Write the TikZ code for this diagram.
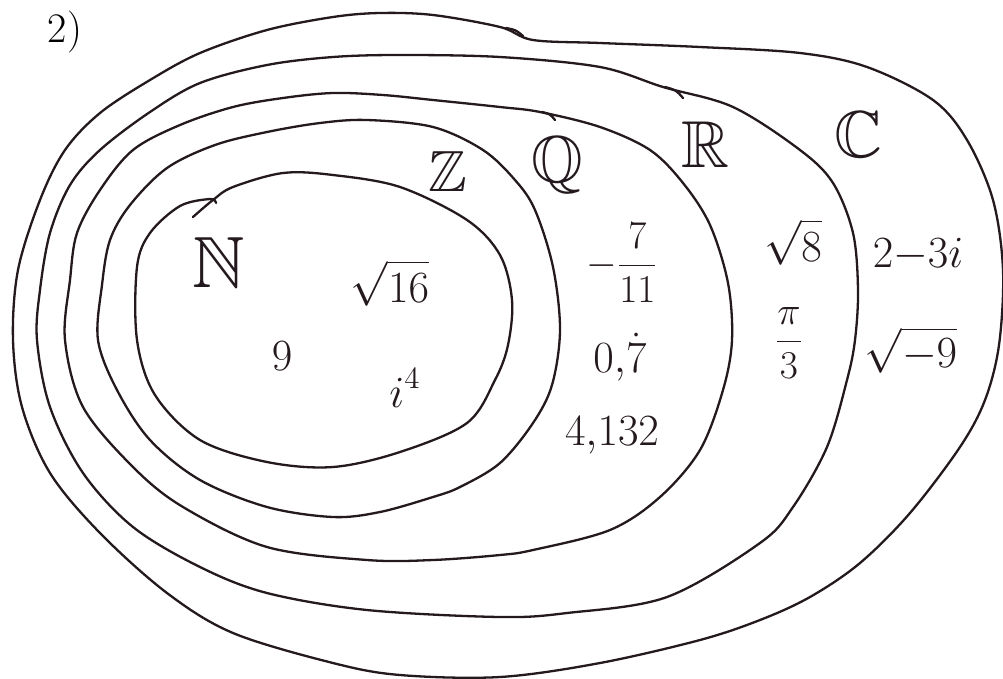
\documentclass[tikz,border=0pt]{standalone}
\usepackage{amsmath,amssymb}
\usepackage{graphicx}
\definecolor{ink}{RGB}{35,25,30}
\newcommand\SetLbl[2]{\scalebox{#1}{$#2$}}
\newcommand\ElemTx[1]{\scalebox{2.15}{$\displaystyle #1$}}
\newcommand\FracTx[1]{\scalebox{1.9}{$\displaystyle #1$}}
\begin{document}
\begin{tikzpicture}[x=1pt,y=-1pt,
  setline/.style={draw=ink, line width=2.3pt, line cap=round, line join=round},
  lbl/.style={text=ink, font=\fontsize{20.74}{25}\selectfont, inner sep=0pt},
  el/.style={text=ink, font=\fontsize{20.74}{25}\selectfont, inner sep=0pt}]
\useasboundingbox (0,0) rectangle (1003,678);
\clip (0,0) rectangle (1003,678);
\fill[white] (0,0) rectangle (1003,678);

% C (outermost)
\draw[setline] plot[smooth cycle, tension=0.55] coordinates {
 (13,340) (18,270) (40,200) (65,150) (100,113) (150,80) (200,53) (267,30)
 (333,17) (380,13) (433,15) (500,27) (533,40) (600,43) (700,47) (800,53)
 (867,67) (933,100) (967,140) (993,200) (1003,270) (999,345) (985,400)
 (960,447) (910,513) (860,563) (810,597) (760,620) (700,640) (600,663)
 (500,677) (400,675) (333,663) (233,633) (167,593) (100,533) (50,473) (22,407)};
\draw[setline] (506,28) .. controls (516,30) .. (523,36);

% R
\draw[setline] plot[smooth cycle, tension=0.55] coordinates {
 (37,340) (40,290) (50,233) (70,185) (100,150) (150,112) (200,83) (267,65)
 (333,57) (400,55) (500,57) (600,67) (663,87) (733,107) (800,150) (833,183)
 (853,233) (858,290) (855,340) (847,380) (827,447) (793,507) (760,543)
 (667,597) (567,613) (500,617) (367,610) (267,593) (200,567) (133,527)
 (83,473) (50,407)};
\draw[setline] (665,87) .. controls (676,90) .. (683,98);

% Q
\draw[setline] plot[smooth cycle, tension=0.55] coordinates {
 (65,340) (70,280) (77,233) (100,190) (133,150) (180,125) (233,107) (283,98)
 (333,93) (383,95) (433,100) (500,107) (540,112) (600,127) (650,150) (683,183)
 (710,225) (728,283) (732,340) (723,390) (700,450) (660,497) (610,530)
 (533,550) (500,555) (433,560) (367,560) (267,547) (183,507) (133,467) (83,407)};
\draw[setline] (542,112) .. controls (550,114) .. (555,120);

% Z
\draw[setline] plot[smooth cycle, tension=0.55] coordinates {
 (98,340) (102,285) (110,240) (130,205) (167,168) (215,145) (267,132) (320,123)
 (367,120) (433,127) (483,150) (515,180) (535,210) (553,267) (560,330)
 (552,385) (533,423) (500,463) (460,487) (433,497) (380,512) (333,517)
 (267,507) (200,480) (150,440) (117,390)};

% N (innermost, open stroke with crossing ends)
\draw[setline] plot[smooth, tension=0.55] coordinates {
 (193,217) (213,200) (233,187) (283,173) (333,175) (400,187) (467,220)
 (500,255) (512,300) (508,345) (495,380) (467,423) (400,452) (333,467)
 (267,462) (200,440) (155,395) (137,340) (137,267) (150,233) (180,206)
 (210,199) (216,203)};

% title
\node[text=black, font=\fontsize{42}{48}\selectfont, inner sep=0pt] (title) at (65,32) {2)};

% set labels
\node[lbl] (lN) at (219,262) {\SetLbl{3.5}{\mathbb{N}}};
\node[lbl] (lZ) at (448,171) {\SetLbl{2.8}{\mathbb{Z}}};
\node[lbl] (lQ) at (557,165) {\SetLbl{3.2}{\mathbb{Q}}};
\node[lbl] (lR) at (705,145) {\SetLbl{3.2}{\mathbb{R}}};
\node[lbl] (lC) at (858,135) {\SetLbl{3.2}{\mathbb{C}}};

% elements
\node[el] (e16) at (390,283) {\ElemTx{\sqrt{16}}};
\node[el] (e9) at (282,356) {\ElemTx{9}};
\node[el] (ei4) at (405,388) {\ElemTx{i^4}};
\node[el] (e711) at (622,263) {\FracTx{-\frac{7}{11}}};
\node[el] (e07) at (620,357) {\ElemTx{0{,}\dot{7}}};
\node[el] (e4132) at (612,435) {\ElemTx{4{,}132}};
\node[el] (e8) at (793,242) {\ElemTx{\sqrt{8}}};
\node[el] (epi) at (789,343) {\FracTx{\frac{\pi}{3}}};
\node[el] (e23i) at (918,255) {\ElemTx{2{-}3i}};
\node[el] (em9) at (911,350) {\ElemTx{\sqrt{-9}}};
\end{tikzpicture}
\end{document}
